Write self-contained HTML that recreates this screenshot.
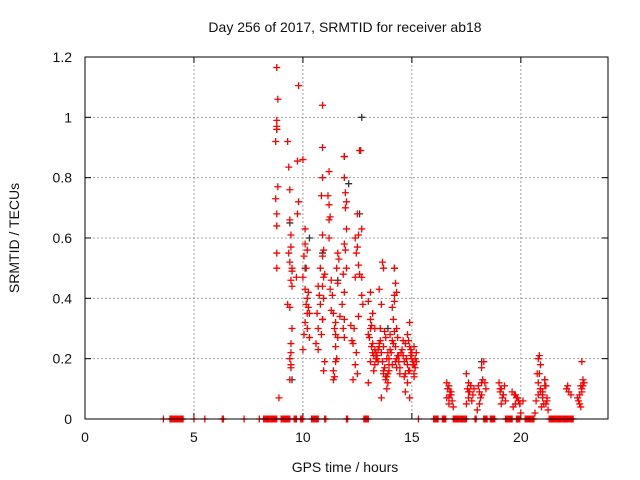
<!DOCTYPE html>
<html><head><meta charset="utf-8"><style>
body{margin:0;background:#fff}
svg{display:block}
text{font-family:"Liberation Sans",sans-serif;font-size:14px;fill:#111}
</style></head><body>
<svg id="chart" width="640" height="480">
<text x="345" y="32" text-anchor="middle">Day 256 of 2017, SRMTID for receiver ab18</text>
<text x="345" y="472" text-anchor="middle">GPS time / hours</text>
<text transform="translate(19,238) rotate(-90)" text-anchor="middle">SRMTID / TECUs</text>
<g id="grid"></g>
<g id="ticks"></g>
<g id="black"></g>
<g id="red"></g>
<rect x="85" y="57" width="523" height="362" fill="none" stroke="#000" stroke-width="1"/>
</svg>
<script>
const xTicks=[0,5,10,15,20];
const yTicks=[0,0.2,0.4,0.6,0.8,1,1.2];
const yTickLabels=["0","0.2","0.4","0.6","0.8","1","1.2"];
const zeroHours=[3.6,3.9,3.95,4.0,4.05,4.1,4.15,4.2,4.25,4.3,4.35,4.4,4.45,4.5,5.0,5.5,6.3,6.35,7.3,8.0,8.2,8.25,8.3,8.35,8.4,8.45,8.5,8.55,8.6,8.65,8.7,8.75,8.8,9.0,9.05,9.1,9.15,9.2,9.25,9.3,9.35,9.4,9.6,9.65,9.7,9.9,9.95,10.0,10.4,10.45,10.5,10.55,10.6,10.65,10.7,11.0,11.05,12.0,12.05,12.8,12.85,12.9,12.95,13.0,15.3,16.0,16.05,16.1,16.15,16.2,16.4,16.45,16.5,16.55,16.9,16.95,17.0,17.05,17.1,17.15,17.2,17.25,17.3,17.35,17.4,17.45,17.5,17.9,17.95,18.3,18.35,18.4,18.45,18.6,18.65,18.7,18.75,18.8,19.3,19.35,19.4,19.45,19.5,19.55,19.6,19.8,19.85,19.9,19.95,20.2,20.25,20.3,20.35,20.4,20.45,20.5,20.55,20.6,21.3,21.35,21.4,21.45,21.5,21.55,21.6,21.65,21.7,21.75,21.8,21.85,21.9,21.95,22.0,22.05,22.1,22.15,22.2,22.25,22.3,22.35,22.4];
const redHours=[8.8,8.85,8.8,8.8,8.8,8.75,8.85,8.75,8.8,8.8,8.8,8.8,8.9,
9.3,9.35,9.4,9.4,9.45,9.45,9.35,9.4,9.5,9.5,9.45,9.5,9.3,9.4,9.5,9.45,9.45,9.4,9.45,9.45,9.4,
9.8,9.75,9.8,9.75,9.7,
10.0,10.1,10.1,10.2,10.05,10.15,10.0,10.1,10.2,10.15,10.25,10.3,10.1,10.2,10.05,10.0,10.3,
10.7,10.75,10.8,10.65,10.9,10.7,10.85,10.6,10.7,10.8,10.95,
10.9,10.9,10.9,10.85,10.9,10.95,10.9,11.0,10.9,10.95,10.9,11.0,10.95,
11.2,11.15,11.2,11.25,11.2,11.2,11.3,11.25,11.35,11.3,
11.4,11.5,11.45,11.6,11.5,11.6,11.65,11.55,11.6,11.4,11.45,11.4,11.55,11.5,
11.9,11.9,11.95,12.0,11.95,12.0,11.9,11.95,12.0,11.85,11.9,11.8,11.9,11.85,11.9,
12.6,12.65,12.7,12.5,12.55,12.4,12.5,12.45,12.55,12.6,12.4,12.7,12.75,12.55,12.35,12.3,12.45,12.5,12.3,12.4,12.7,
13.1,13.0,13.2,13.1,13.3,13.0,13.2,13.3,13.4,13.1,13.25,13.0,13.15,13.35,13.5,13.45,
13.65,13.7,13.5,13.6,13.55,13.8,13.7,13.9,13.85,13.95,13.7,13.8,13.9,13.85,13.6,13.75,13.95,
14.2,14.25,14.3,14.2,14.1,14.15,14.3,14.35,14.25,14.4,14.1,14.45,14.2,14.0,14.3,
14.9,14.8,14.7,15.0,14.75,15.1,14.9,14.65,14.8,14.7,14.9,15.1,15.0,15.15,14.6,14.85,15.05,14.95,15.2,15.1,
16.6,16.7,16.65,16.75,16.8,16.6,16.85,16.7,16.9,16.75,
17.5,17.6,17.7,17.55,17.65,17.8,17.6,17.75,17.5,18.3,18.2,18.25,18.1,18.0,18.4,18.2,18.05,18.35,18.15,
19.0,19.1,19.05,19.2,19.15,19.3,19.1,19.25,
19.6,19.7,19.8,19.9,19.75,19.65,20.0,19.85,20.1,
20.8,20.85,20.9,20.75,21.1,21.15,20.9,21.0,20.8,21.2,20.7,21.05,20.95,21.25,20.65,20.85,21.1,21.0,21.2,20.9,
22.1,22.2,22.3,22.15,
22.8,22.85,22.9,22.75,22.8,22.7,22.6,22.65,22.7,22.75,
13.05,13.15,13.25,13.35,13.45,13.55,13.65,13.75,13.85,13.95,14.05,14.15,14.25,14.35,14.45,14.55,14.65,14.75,14.85,14.95,15.05,15.15,
13.1,13.2,13.3,13.4,13.5,13.6,13.7,13.8,13.9,14.0,14.1,14.2,14.3,14.4,14.5,14.6,14.7,14.8,14.9,15.0,15.1,15.2,
16.65,16.7,16.8,17.6,17.7,17.85,18.1,18.2,19.05,19.2,19.75,19.95,20.8,20.9,21.0,21.1,21.15,22.8,22.85,10.2,10.25,11.5,11.7,12.2,12.25];
const redValues=[1.165,1.06,0.99,0.97,0.96,0.92,0.77,0.73,0.68,0.64,0.55,0.5,0.07,
0.92,0.835,0.76,0.66,0.61,0.57,0.55,0.52,0.5,0.49,0.46,0.44,0.38,0.37,0.3,0.25,0.22,0.2,0.18,0.17,0.13,
1.105,0.855,0.72,0.68,0.47,
0.86,0.63,0.58,0.56,0.54,0.5,0.47,0.43,0.4,0.38,0.37,0.35,0.32,0.3,0.28,0.23,0.27,
0.44,0.41,0.38,0.35,0.33,0.3,0.28,0.25,0.23,0.5,0.47,
1.04,0.9,0.8,0.74,0.61,0.56,0.54,0.48,0.44,0.4,0.33,0.19,0.16,
0.82,0.74,0.71,0.67,0.66,0.6,0.46,0.43,0.41,0.36,
0.35,0.32,0.3,0.27,0.24,0.55,0.53,0.5,0.45,0.16,0.14,0.13,0.2,0.19,
0.87,0.8,0.75,0.72,0.7,0.63,0.58,0.56,0.5,0.48,0.42,0.38,0.33,0.3,0.27,
0.89,0.89,0.63,0.68,0.61,0.6,0.57,0.55,0.51,0.48,0.47,0.41,0.38,0.34,0.3,0.25,0.22,0.15,0.13,0.18,0.47,
0.42,0.39,0.35,0.33,0.3,0.28,0.25,0.23,0.21,0.19,0.16,0.12,0.31,0.22,0.24,0.19,
0.52,0.5,0.43,0.38,0.3,0.27,0.24,0.22,0.2,0.18,0.15,0.14,0.12,0.1,0.07,0.29,0.16,
0.5,0.45,0.42,0.39,0.37,0.33,0.3,0.27,0.24,0.21,0.18,0.15,0.41,0.28,0.2,
0.32,0.28,0.25,0.22,0.2,0.18,0.16,0.14,0.12,0.09,0.07,0.24,0.2,0.17,0.21,0.26,0.19,0.23,0.22,0.14,
0.12,0.11,0.1,0.09,0.08,0.07,0.06,0.05,0.04,0.08,
0.15,0.12,0.11,0.1,0.09,0.08,0.07,0.06,0.05,0.19,0.17,0.13,0.05,0.03,0.1,0.08,0.11,0.12,0.07,
0.12,0.1,0.09,0.08,0.07,0.06,0.05,0.11,
0.09,0.08,0.07,0.06,0.05,0.04,0.02,0.07,0.06,
0.2,0.21,0.18,0.15,0.13,0.11,0.1,0.09,0.08,0.07,0.06,0.05,0.04,0.03,0.02,0.15,0.13,0.08,0.06,0.1,
0.1,0.09,0.08,0.11,
0.19,0.13,0.12,0.11,0.1,0.08,0.07,0.06,0.05,0.04,
0.27,0.24,0.21,0.2,0.23,0.26,0.19,0.17,0.14,0.2,0.22,0.25,0.19,0.21,0.17,0.23,0.19,0.2,0.16,0.21,0.18,0.2,
0.3,0.22,0.18,0.2,0.25,0.22,0.16,0.13,0.15,0.23,0.26,0.29,0.17,0.19,0.22,0.26,0.15,0.18,0.24,0.22,0.15,0.19,
0.1,0.07,0.09,0.09,0.11,0.1,0.09,0.12,0.1,0.08,0.08,0.05,0.12,0.09,0.07,0.11,0.05,0.09,0.11,0.35,0.42,0.28,0.34,0.31,0.26];
const blackHours=[8.8,9.4,10.1,10.9,11.9,12.1,12.6,12.7,13.9,14.2,18.2,9.5,11.6,10.3];
const blackValues=[0.96,0.65,0.5,0.55,0.87,0.78,0.68,1.0,0.3,0.5,0.19,0.13,0.46,0.6];

const X0=85,X1=608,Y0=419,Y1=57,XMAX=24,YMAX=1.2;
const xs=h=>X0+h*(X1-X0)/XMAX;
const ys=v=>Y0-v*(Y0-Y1)/YMAX;
const NS="http://www.w3.org/2000/svg";
function mk(tag,attrs,parent){const e=document.createElementNS(NS,tag);for(const k in attrs)e.setAttribute(k,attrs[k]);parent.appendChild(e);return e;}
const grid=document.getElementById('grid'),ticks=document.getElementById('ticks');
xTicks.forEach(t=>{const x=xs(t);
 if(t>0){const g=mk('line',{x1:x,x2:x,y1:Y1,y2:Y0,stroke:'#a0a0a0','stroke-dasharray':'2,2'},grid);
 
 }
 mk('line',{x1:x,x2:x,y1:Y0,y2:Y0-6,stroke:'#000'},ticks);mk('line',{x1:x,x2:x,y1:Y1,y2:Y1+6,stroke:'#000'},ticks);
 const l=mk('text',{x:x,y:442,'text-anchor':'middle'},ticks);l.textContent=t;
 
 });
yTicks.forEach((t,i)=>{const y=ys(t);
 if(t>0&&t<YMAX){const g=mk('line',{x1:X0,x2:X1,y1:y,y2:y,stroke:'#a0a0a0','stroke-dasharray':'2,2'},grid);
 
 }
 mk('line',{x1:X0,x2:X0+6,y1:y,y2:y,stroke:'#000'},ticks);mk('line',{x1:X1,x2:X1-6,y1:y,y2:y,stroke:'#000'},ticks);
 const l=mk('text',{x:72,y:y+5,'text-anchor':'end'},ticks);l.textContent=yTickLabels[i];
 
 });
function plus(h,v,color,parent){const x=xs(h),y=ys(v);
 return mk('path',{d:`M${x-3.5},${y}H${x+3.5}M${x},${y-3.5}V${y+3.5}`,stroke:color,'stroke-width':1.3,fill:'none'},parent);}
const bg=document.getElementById('black'),rg=document.getElementById('red');
blackHours.forEach((h,i)=>{const p=plus(h,blackValues[i],'#333',bg);
 
 });
redHours.forEach((h,i)=>{const p=plus(h,redValues[i],'#ff0000',rg);
 
 });
zeroHours.forEach(h=>{const p=plus(h,0,'#ff0000',rg);
 
 });
</script>
</body></html>
